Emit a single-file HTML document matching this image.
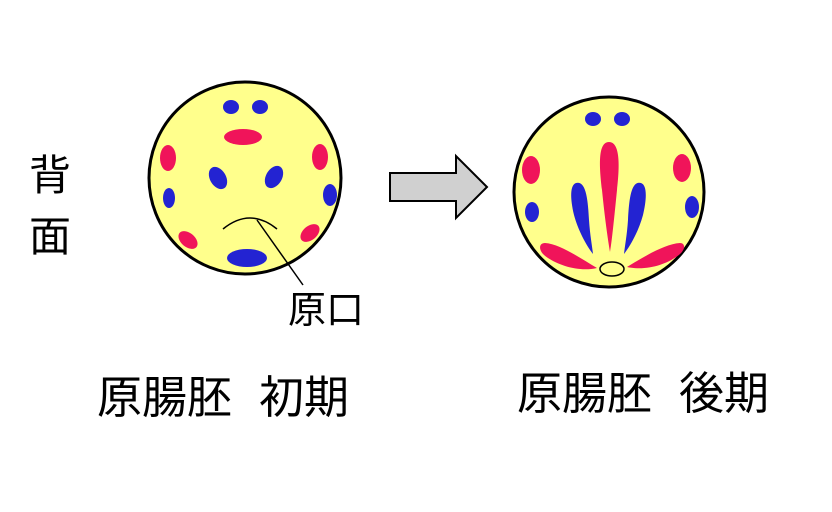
<!DOCTYPE html>
<html><head><meta charset="utf-8"><style>
html,body{margin:0;padding:0;background:#fff;width:832px;height:512px;overflow:hidden}
svg{display:block}
text{font-family:"Liberation Sans","Noto Sans CJK JP",sans-serif;fill:#000}
</style></head><body>
<svg width="832" height="512" viewBox="0 0 832 512">
<g fill="#ffff8c" stroke="#000" stroke-width="3">
<circle cx="245" cy="178" r="96"/>
<circle cx="609" cy="192" r="95"/>
</g>
<g stroke="none">
<ellipse cx="231" cy="107" rx="8" ry="7" fill="#2323d2"/>
<ellipse cx="260" cy="107" rx="8" ry="7" fill="#2323d2"/>
<ellipse cx="243" cy="137" rx="19" ry="8" fill="#f0145a"/>
<ellipse cx="168" cy="158" rx="8" ry="13" fill="#f0145a"/>
<ellipse cx="320" cy="157" rx="8" ry="13" fill="#f0145a"/>
<ellipse cx="218" cy="178" rx="8" ry="12" transform="rotate(-30 218 178)" fill="#2323d2"/>
<ellipse cx="274" cy="177" rx="8" ry="12" transform="rotate(30 274 177)" fill="#2323d2"/>
<ellipse cx="169" cy="198" rx="6" ry="10" fill="#2323d2"/>
<ellipse cx="330" cy="195" rx="7" ry="11" fill="#2323d2"/>
<ellipse cx="188" cy="240" rx="7" ry="11" transform="rotate(-50 188 240)" fill="#f0145a"/>
<ellipse cx="310" cy="233" rx="7" ry="11" transform="rotate(50 310 233)" fill="#f0145a"/>
<ellipse cx="247" cy="258" rx="20" ry="9" fill="#2323d2"/>

<ellipse cx="593" cy="119" rx="8" ry="7" fill="#2323d2"/>
<ellipse cx="622" cy="119" rx="8" ry="7" fill="#2323d2"/>
<ellipse cx="531" cy="170" rx="9" ry="14" fill="#f0145a"/>
<ellipse cx="682" cy="168" rx="9" ry="14" fill="#f0145a"/>
<ellipse cx="532" cy="212" rx="7" ry="10" fill="#2323d2"/>
<ellipse cx="692" cy="207" rx="7" ry="11" fill="#2323d2"/>
<path d="M609 142 C620 142 620 165 617 190 C614 220 612 240 610 252 C608 240 605 220 602 190 C599 165 598 142 609 142Z" fill="#f0145a"/>
<path d="M576 183 C586 180 588 200 589 220 C590 235 592 245 593 254 C586 245 578 230 574 215 C570 198 570 185 576 183Z" fill="#2323d2"/>
<path d="M641 183 C631 180 629 200 628 220 C627 235 625 245 624 254 C631 245 639 230 643 215 C647 198 647 185 641 183Z" fill="#2323d2"/>
<path d="M545 243 C560 244 580 258 597 268 C580 272 560 266 548 258 C538 252 538 243 545 243Z" fill="#f0145a"/>
<path d="M680 243 C665 244 645 256 627 267 C645 271 665 265 676 257 C686 251 686 243 680 243Z" fill="#f0145a"/>
</g>
<ellipse cx="612" cy="269" rx="12" ry="7" fill="none" stroke="#000" stroke-width="1.5"/>
<path d="M223 229 Q250 207 277 229" fill="none" stroke="#000" stroke-width="1.5"/>
<line x1="257" y1="220" x2="303" y2="285" stroke="#000" stroke-width="1.5"/>
<path d="M390 173 L456 173 L456 156 L487 187 L456 218 L456 201 L390 201 Z" fill="#d0d0d0" stroke="#000" stroke-width="2"/>
<text x="288" y="323" font-size="38">原口</text>
<text x="29" y="190" font-size="42">背</text>
<text x="29" y="251" font-size="42">面</text>
<text x="97" y="413" font-size="45">原腸胚</text>
<text x="259" y="413" font-size="45">初期</text>
<text x="517" y="409" font-size="45">原腸胚</text>
<text x="679" y="409" font-size="45">後期</text>
</svg>
</body></html>
